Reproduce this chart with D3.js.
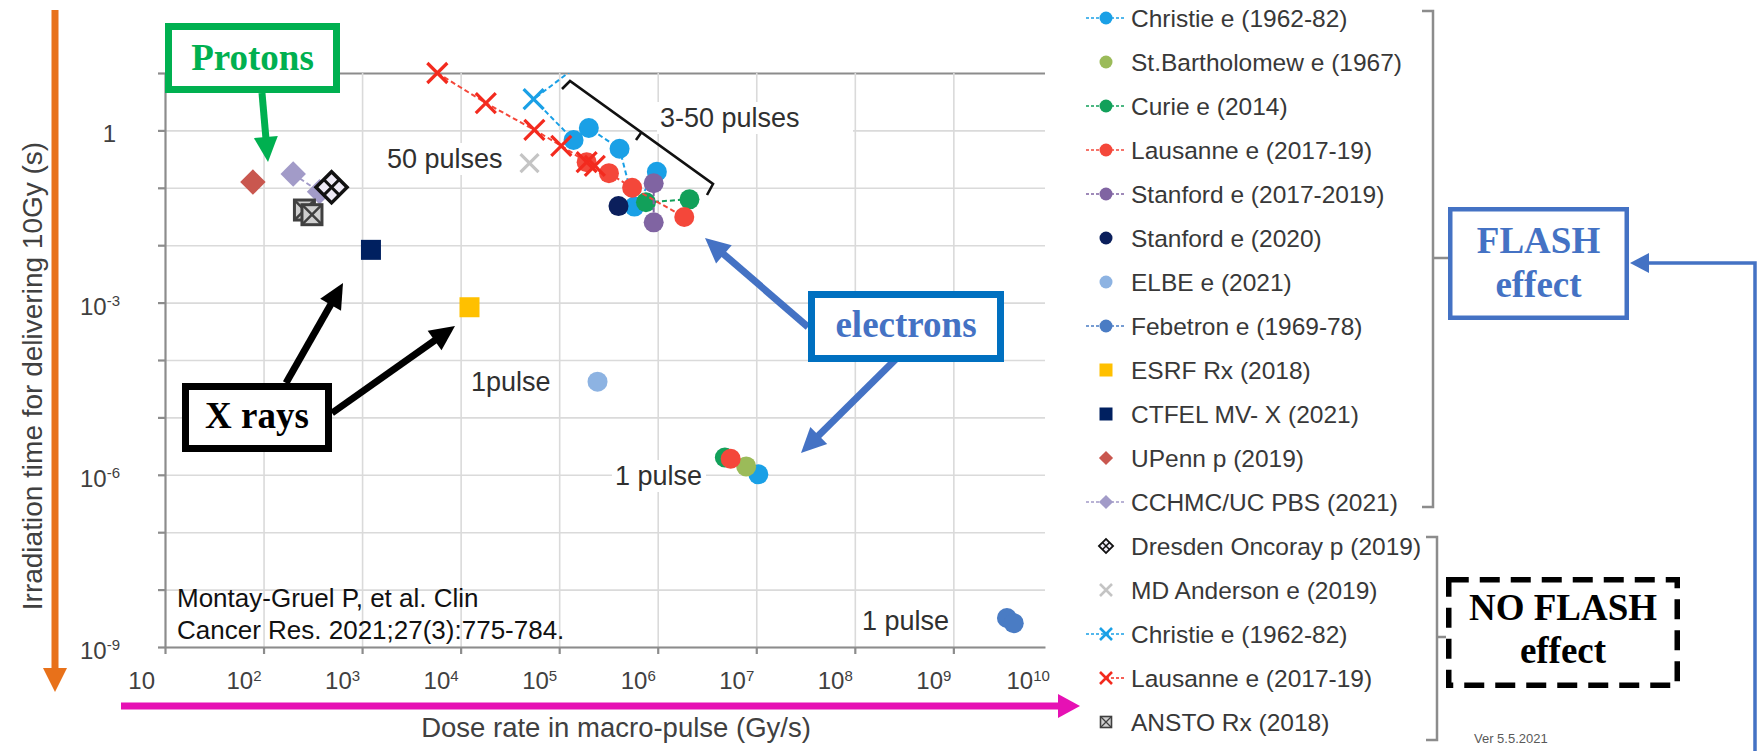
<!DOCTYPE html>
<html>
<head>
<meta charset="utf-8">
<script src="https://cdn.jsdelivr.net/npm/d3@7"></script>
<style>
body { margin: 0; background: #fff; }
svg { display: block; font-family: "Liberation Sans", Arial, sans-serif; }
</style>
</head>
<body>
<svg id="chart"></svg>
<script>
var width = 1758;
var height = 751;

// ---- data: [dose rate (Gy/s), time to deliver 10 Gy (s)] ----
var xTicks = [1e1, 1e2, 1e3, 1e4, 1e5, 1e6, 1e7, 1e8, 1e9, 1e10];
var yGrid = [1e-9, 1e-8, 1e-7, 1e-6, 1e-5, 1e-4, 1e-3, 1e-2, 1e-1, 1, 1e1];
var yLabelTicks = [1, 1e-3, 1e-6, 1e-9];

var christieFlash    = [[1.4e5, 0.68], [2.0e5, 1.1], [4.1e5, 0.48], [5.8e5, 0.047], [9.8e5, 0.19]];
var christieOnePulse = [[1.05e7, 1.02e-6]];
var stBarthOnePulse  = [[7.9e6, 1.4e-6]];
var curieFlash       = [[7.6e5, 0.056], [2.1e6, 0.063]];
var curieOnePulse    = [[4.8e6, 2.0e-6]];
var lausanneFlash    = [[1.9e5, 0.28], [3.2e5, 0.18], [5.5e5, 0.10], [1.86e6, 0.031]];
var lausanneOnePulse = [[5.5e6, 1.9e-6]];
var stanford1719     = [[9.1e5, 0.12], [9.1e5, 0.025]];
var stanford2020     = [[4.0e5, 0.048]];
var elbe             = [[2.45e5, 4.2e-5]];
var febetron         = [[3.5e9, 3.2e-9], [4.1e9, 2.6e-9]];
var esrf             = [[1.23e4, 8.3e-4]];
var ctfel            = [[1.23e3, 8.3e-3]];
var upenn            = [[78, 0.126]];
var cchmc            = [[200, 0.174], [370, 0.085]];
var dresden          = [[490, 0.102]];
var mdAnderson       = [[5.0e4, 0.27]];
var christieNoFlash  = [[2.1e5, 20], [5.5e4, 3.5]];
var lausanneNoFlash  = [[5.8e3, 10], [1.8e4, 3.0], [5.6e4, 1.02], [1.05e5, 0.54], [1.9e5, 0.28], [2.3e5, 0.24]];
var ansto            = [[260, 0.041], [310, 0.034]];

var legendLabels = [
    "Christie e (1962-82)", "St.Bartholomew e (1967)", "Curie e (2014)", "Lausanne e (2017-19)",
    "Stanford e (2017-2019)", "Stanford e (2020)", "ELBE e (2021)", "Febetron e (1969-78)",
    "ESRF Rx (2018)", "CTFEL MV- X (2021)", "UPenn p (2019)", "CCHMC/UC PBS (2021)",
    "Dresden Oncoray p (2019)", "MD Anderson e (2019)", "Christie e (1962-82)",
    "Lausanne e (2017-19)", "ANSTO Rx (2018)"
];

var colors = {
    christie: "#1aa0e6", stbarth: "#9bbb59", curie: "#12a05a", lausanne: "#f4473a",
    stanford: "#8064a2", stanford20: "#0b1f5c", elbe: "#8db3e2", febetron: "#4a7cc4",
    esrf: "#ffc000", ctfel: "#002060", upenn: "#c9574f", cchmc: "#a29bc8",
    dresden: "#111", md: "#c4c4c4", lausanneX: "#f32a1e", ansto: "#404040"
};

var svg = d3.select("svg")
            .attr("width", width)
            .attr("height", height);

var x = d3.scaleLog()
            .domain([10, Math.pow(10, 9.93)])
            .range([165, 1045]);
var y = d3.scaleLog()
            .domain([1e-9, 10])
            .range([647, 73]);

// gridlines
svg.append("g")
        .attr("transform", "translate(" + x.range()[0] + ",0)")
        .call(d3.axisLeft(y).tickValues(yGrid).tickSize(-(x.range()[1] - x.range()[0])).tickFormat(""))
        .call(function(g){
            g.select(".domain").remove();
            g.selectAll("line").attr("stroke", function(d){ return d === 10 ? "#8c8c8c" : "#dadada"; })
                               .attr("stroke-width", function(d){ return d === 10 ? 2 : 1.6; });
        });
svg.append("g")
        .attr("transform", "translate(0," + y.range()[0] + ")")
        .call(d3.axisBottom(x).tickValues(xTicks.slice(1, 9)).tickSize(-(y.range()[0] - y.range()[1])).tickFormat(""))
        .call(function(g){
            g.select(".domain").remove();
            g.selectAll("line").attr("stroke", "#dadada").attr("stroke-width", 1.6);
        });

// axes
svg.append("g")
        .attr("transform", "translate(" + x.range()[0] + ",0)")
        .call(d3.axisLeft(y).tickValues(yGrid).tickSizeInner(7).tickSizeOuter(0).tickFormat(""))
        .call(function(g){
            g.selectAll("path, line").attr("stroke", "#8c8c8c").attr("stroke-width", 2.2);
        });
svg.append("g")
        .attr("transform", "translate(0," + y.range()[0] + ")")
        .call(d3.axisBottom(x).tickValues(xTicks.slice(0, 9)).tickSizeInner(7).tickSizeOuter(0).tickFormat(""))
        .call(function(g){
            g.selectAll("path, line").attr("stroke", "#8c8c8c").attr("stroke-width", 2.2);
        });

// tick labels with superscripts
xTicks.forEach(function(v){
    var e = Math.round(Math.log10(v));
    var t = svg.append("text")
            .attr("x", x(v) - (e === 1 ? 10 : 2))
            .attr("y", 689)
            .attr("text-anchor", "end")
            .attr("font-size", 24)
            .attr("fill", "#404040")
            .text("10");
    if (e > 1) t.append("tspan").attr("dy", -8).attr("font-size", 15).text(e);
});
yLabelTicks.forEach(function(v){
    var e = Math.round(Math.log10(v));
    var t = svg.append("text")
            .attr("x", e === 0 ? 116 : 120)
            .attr("y", y(v) + 12)
            .attr("text-anchor", "end")
            .attr("font-size", 24)
            .attr("fill", "#404040");
    if (e === 0) { t.text("1"); }
    else { t.text("10"); t.append("tspan").attr("dy", -9).attr("font-size", 15).text(e); }
});

// axis titles
svg.append("text")
        .attr("transform", "translate(32,376) rotate(-90)")
        .attr("text-anchor", "middle")
        .attr("dominant-baseline", "central")
        .attr("font-size", 28)
        .attr("fill", "#404040")
        .text("Irradiation time for delivering 10Gy (s)");
svg.append("text")
        .attr("x", 616).attr("y", 737)
        .attr("text-anchor", "middle")
        .attr("font-size", 27.5)
        .attr("fill", "#404040")
        .text("Dose rate in macro-pulse (Gy/s)");

// markers
function marker(g, shape, color, s) {
    if (shape === "circle") {
        g.append("circle").attr("r", s).attr("fill", color);
    } else if (shape === "square") {
        g.append("rect").attr("x", -s).attr("y", -s).attr("width", 2 * s).attr("height", 2 * s).attr("fill", color);
    } else if (shape === "diamond") {
        g.append("rect").attr("x", -s).attr("y", -s).attr("width", 2 * s).attr("height", 2 * s)
         .attr("fill", color).attr("transform", "rotate(45)");
    } else if (shape === "x") {
        g.append("path").attr("d", "M" + (-s) + "," + (-s) + "L" + s + "," + s + "M" + (-s) + "," + s + "L" + s + "," + (-s))
         .attr("stroke", color).attr("stroke-width", s > 7 ? 3.2 : 2.6).attr("fill", "none");
    } else if (shape === "dresden") {
        var d = g.append("g").attr("transform", "rotate(45)");
        d.append("rect").attr("x", -s).attr("y", -s).attr("width", 2 * s).attr("height", 2 * s)
         .attr("fill", "#eeeaf6").attr("stroke", color).attr("stroke-width", s > 7 ? 3.5 : 1.8);
        d.append("path").attr("d", "M0," + (-s) + "V" + s + "M" + (-s) + ",0H" + s)
         .attr("stroke", color).attr("stroke-width", s > 7 ? 3 : 1.5);
    } else if (shape === "ansto") {
        g.append("rect").attr("x", -s).attr("y", -s).attr("width", 2 * s).attr("height", 2 * s)
         .attr("fill", "#d0d0d0").attr("stroke", color).attr("stroke-width", s > 7 ? 3 : 1.6);
        g.append("path").attr("d", "M" + (-s) + "," + (-s) + "L" + s + "," + s + "M" + (-s) + "," + s + "L" + s + "," + (-s))
         .attr("stroke", color).attr("stroke-width", s > 7 ? 2.5 : 1.3);
    }
}

svg.append("clipPath").attr("id", "plotclip")
        .append("rect").attr("x", x.range()[0]).attr("y", y.range()[1])
        .attr("width", x.range()[1] - x.range()[0]).attr("height", y.range()[0] - y.range()[1]);

var line = d3.line().x(function(d){ return x(d[0]); }).y(function(d){ return y(d[1]); });

// plot series built from the arrays above, drawn in legend order
var plotSeries = [
    { pts: christieFlash.concat(christieOnePulse), shape: "circle", color: colors.christie, size: 10, path: christieNoFlash.concat(christieFlash) },
    { pts: stBarthOnePulse, shape: "circle", color: colors.stbarth, size: 10 },
    { pts: curieFlash.concat(curieOnePulse), shape: "circle", color: colors.curie, size: 10, path: curieFlash },
    { pts: lausanneFlash.concat(lausanneOnePulse), shape: "circle", color: colors.lausanne, size: 10, path: lausanneNoFlash.concat(lausanneFlash) },
    { pts: stanford1719, shape: "circle", color: colors.stanford, size: 10, path: stanford1719 },
    { pts: stanford2020, shape: "circle", color: colors.stanford20, size: 10 },
    { pts: elbe, shape: "circle", color: colors.elbe, size: 10 },
    { pts: febetron, shape: "circle", color: colors.febetron, size: 10, path: febetron },
    { pts: esrf, shape: "square", color: colors.esrf, size: 10 },
    { pts: ctfel, shape: "square", color: colors.ctfel, size: 10 },
    { pts: upenn, shape: "diamond", color: colors.upenn, size: 9 },
    { pts: cchmc, shape: "diamond", color: colors.cchmc, size: 9, path: cchmc },
    { pts: dresden, shape: "dresden", color: colors.dresden, size: 11 },
    { pts: mdAnderson, shape: "x", color: colors.md, size: 9 },
    { pts: christieNoFlash, shape: "x", color: colors.christie, size: 10 },
    { pts: lausanneNoFlash, shape: "x", color: colors.lausanneX, size: 10 },
    { pts: ansto, shape: "ansto", color: colors.ansto, size: 10 }
];

var plot = svg.append("g");
plotSeries.forEach(function(s){
    if (s.path) {
        plot.append("path")
            .attr("d", line(s.path))
            .attr("clip-path", "url(#plotclip)")
            .attr("fill", "none")
            .attr("stroke", s.color)
            .attr("stroke-width", 2)
            .attr("stroke-dasharray", "5,3");
    }
    s.pts.filter(function(d){ return d[1] <= 10; }).forEach(function(d){
        var g = plot.append("g").attr("transform", "translate(" + x(d[0]) + "," + y(d[1]) + ")");
        marker(g, s.shape, s.color, s.size);
    });
});

// in-plot annotations
function label(txt, x0, yb, w) {
    svg.append("rect").attr("x", x0 - 3).attr("y", yb - 25).attr("width", w).attr("height", 32).attr("fill", "#fff");
    svg.append("text").attr("x", x0).attr("y", yb).attr("font-size", 27).attr("fill", "#303030").text(txt);
}
label("50 pulses", 387, 168, 126);
label("3-50 pulses", 660, 127, 196);
label("1pulse", 471, 391, 86);
label("1 pulse", 615, 485, 94);
label("1 pulse", 862, 630, 90);

svg.append("path")
        .attr("d", "M562,89 L570,81 L713,184 L707,195 M641,133 L636,140")
        .attr("fill", "none").attr("stroke", "#111").attr("stroke-width", 2.6);

svg.append("text").attr("x", 177).attr("y", 607).attr("font-size", 26).attr("fill", "#111").text("Montay-Gruel P, et al. Clin");
svg.append("text").attr("x", 177).attr("y", 639).attr("font-size", 26).attr("fill", "#111").text("Cancer Res. 2021;27(3):775-784.");

// arrows
function arrow(x1, y1, x2, y2, color, w, hl, hw) {
    var dx = x2 - x1, dy = y2 - y1, L = Math.sqrt(dx * dx + dy * dy), ux = dx / L, uy = dy / L;
    var bx = x2 - ux * hl, by = y2 - uy * hl;
    svg.append("line").attr("x1", x1).attr("y1", y1).attr("x2", bx + ux * 2).attr("y2", by + uy * 2)
            .attr("stroke", color).attr("stroke-width", w);
    svg.append("path")
            .attr("d", "M" + x2 + "," + y2 + "L" + (bx - uy * hw) + "," + (by + ux * hw) + "L" + (bx + uy * hw) + "," + (by - ux * hw) + "Z")
            .attr("fill", color);
}
arrow(55, 10, 55, 692, "#e8711a", 7, 24, 12);
arrow(121, 706, 1080, 706, "#e611b4", 7, 22, 12);
arrow(262, 93, 268, 162, "#00b050", 7, 25, 12);
arrow(286, 383, 343, 283, "#000", 7, 25, 12);
arrow(332, 413, 455, 326, "#000", 7, 25, 12);
arrow(808, 327, 705, 238, "#4472c4", 7, 25, 12);
arrow(900, 355, 801, 453, "#4472c4", 7, 25, 12);

// callout boxes
function box(x0, y0, x1, y1, stroke, sw, dash, lines, tcolor, tsize) {
    svg.append("rect")
            .attr("x", x0 + sw / 2).attr("y", y0 + sw / 2)
            .attr("width", x1 - x0 - sw).attr("height", y1 - y0 - sw)
            .attr("fill", "#fff").attr("stroke", stroke).attr("stroke-width", sw)
            .attr("stroke-dasharray", dash);
    lines.forEach(function(l){
        svg.append("text").attr("x", (x0 + x1) / 2).attr("y", l[1])
                .attr("text-anchor", "middle")
                .attr("font-family", "'Liberation Serif', 'Times New Roman', serif")
                .attr("font-weight", "bold")
                .attr("font-size", tsize)
                .attr("fill", tcolor)
                .text(l[0]);
    });
}
box(165, 23, 340, 93, "#00b050", 7, null, [["Protons", 70]], "#00b050", 37);
box(182, 383, 332, 452, "#000", 7, null, [["X rays", 428]], "#000", 37);
box(808, 291, 1004, 362, "#0070c0", 7, null, [["electrons", 337]], "#4472c4", 37);
box(1448, 207, 1629, 320, "#4472c4", 4.5, null, [["FLASH", 253], ["effect", 297]], "#4472c4", 37);
box(1446, 577, 1680, 688, "#000", 5.5, "20,11", [["NO FLASH", 620], ["effect", 663]], "#000", 37);

// FLASH pointer from the right edge
svg.append("path").attr("d", "M1755,751 V263 H1645").attr("fill", "none").attr("stroke", "#4472c4").attr("stroke-width", 3.5);
svg.append("path").attr("d", "M1630,263 L1649,253 L1649,273 Z").attr("fill", "#4472c4");

// legend
var legendStyle = [
    { shape: "circle", color: colors.christie, line: "both" },
    { shape: "circle", color: colors.stbarth },
    { shape: "circle", color: colors.curie, line: "both" },
    { shape: "circle", color: colors.lausanne, line: "both" },
    { shape: "circle", color: colors.stanford, line: "both" },
    { shape: "circle", color: colors.stanford20 },
    { shape: "circle", color: colors.elbe },
    { shape: "circle", color: colors.febetron, line: "both" },
    { shape: "square", color: colors.esrf },
    { shape: "square", color: colors.ctfel },
    { shape: "diamond", color: colors.upenn },
    { shape: "diamond", color: colors.cchmc, line: "both" },
    { shape: "dresden", color: colors.dresden },
    { shape: "x", color: colors.md },
    { shape: "x", color: colors.christie, line: "both" },
    { shape: "x", color: colors.lausanneX, line: "right" },
    { shape: "ansto", color: colors.ansto }
];
var legend = svg.append("g");
legendLabels.forEach(function(name, i){
    var st = legendStyle[i];
    var ly = 18 + i * 44;
    var mx = 1106;
    if (st.line) {
        legend.append("line")
                .attr("x1", st.line === "both" ? 1086 : mx).attr("x2", 1126)
                .attr("y1", ly).attr("y2", ly)
                .attr("stroke", st.color).attr("stroke-width", 1.6).attr("stroke-dasharray", "3,2");
    }
    var g = legend.append("g").attr("transform", "translate(" + mx + "," + ly + ")");
    var sz = { circle: 6.5, square: 6.5, diamond: 5, x: 6, dresden: 5, ansto: 5.5 }[st.shape];
    marker(g, st.shape, st.color, sz);
    legend.append("text")
            .attr("x", 1131).attr("y", ly)
            .attr("dominant-baseline", "central")
            .attr("font-size", 24.5)
            .attr("fill", "#383838")
            .text(name);
});

// legend brackets
svg.append("path").attr("d", "M1422,11 H1433 V507 H1422 M1433,258 H1448")
        .attr("fill", "none").attr("stroke", "#8c8c8c").attr("stroke-width", 2.5);
svg.append("path").attr("d", "M1426,537 H1437 V740 H1426 M1437,637 H1446")
        .attr("fill", "none").attr("stroke", "#8c8c8c").attr("stroke-width", 2.5);

svg.append("text").attr("x", 1474).attr("y", 743).attr("font-size", 13).attr("fill", "#595959").text("Ver 5.5.2021");
</script>
</body>
</html>
